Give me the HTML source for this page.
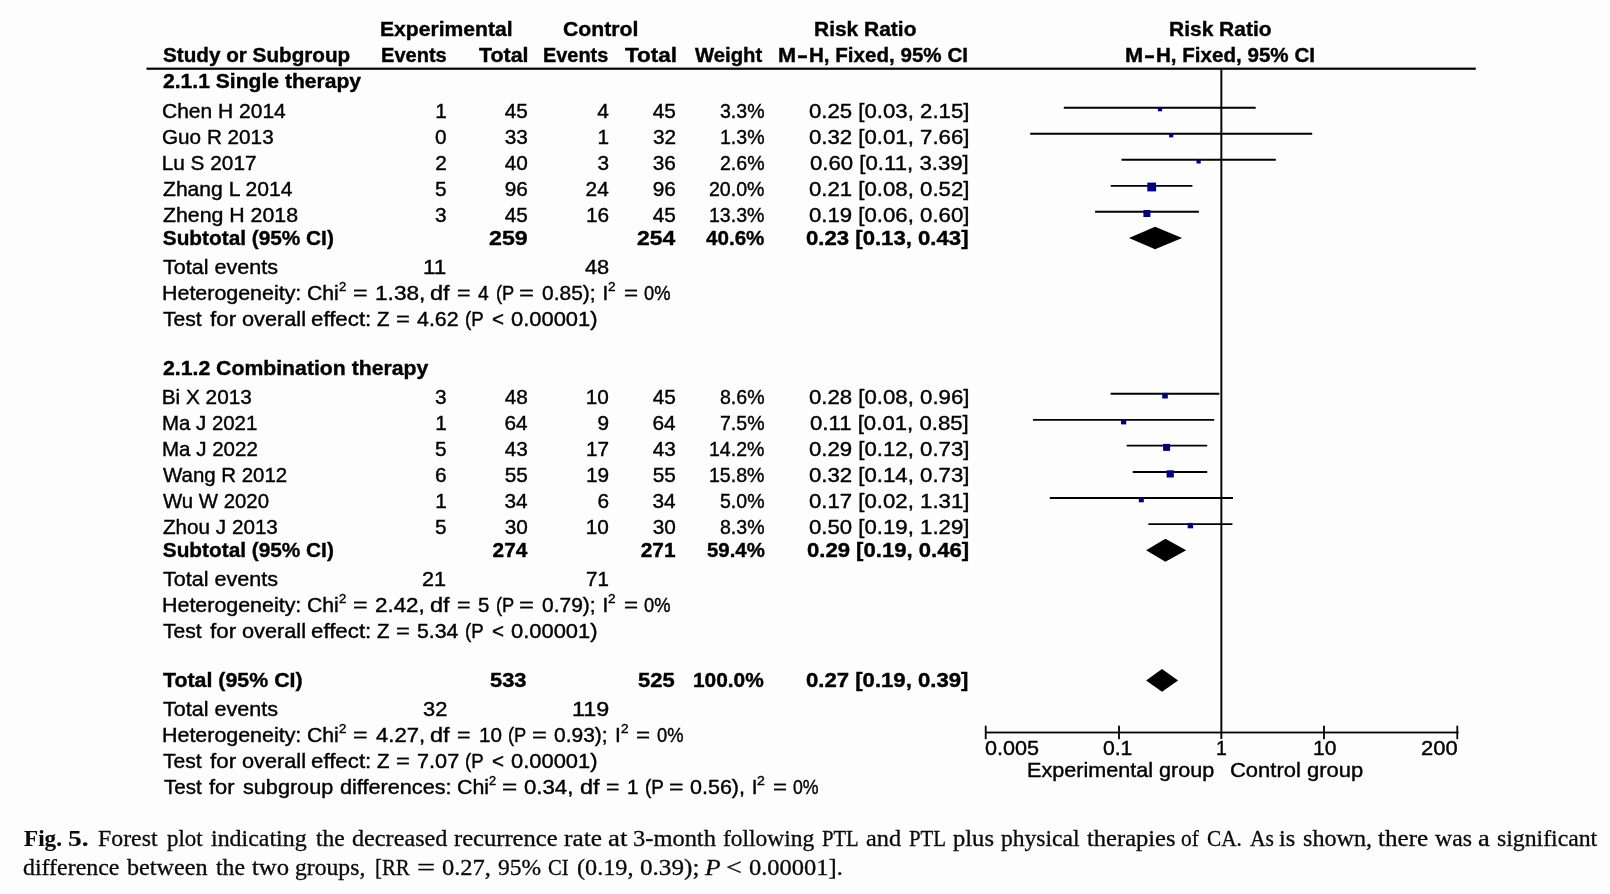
<!DOCTYPE html>
<html><head><meta charset="utf-8"><style>
html,body{margin:0;padding:0;}
body{width:1610px;height:894px;background:#fdfdfd;position:relative;overflow:hidden;color:#000;}
.s,.r{position:absolute;white-space:pre;transform-origin:0 0;}
.s{font-family:"Liberation Sans", sans-serif;font-size:20.8px;line-height:20.8px;-webkit-text-stroke:0.4px #000;}
.r{font-family:"Liberation Serif", serif;font-size:22.6px;line-height:22.6px;color:#0a0a0a;-webkit-text-stroke:0.3px #0a0a0a;}
.r.b{-webkit-text-stroke:0.1px #0a0a0a;font-weight:700;}
svg{position:absolute;left:0;top:0;}
#tx{position:absolute;left:0;top:0;width:1610px;height:894px;filter:grayscale(1);}
</style></head><body>
<svg width="1610" height="894" viewBox="0 0 1610 894">
<rect x="146.5" y="67.6" width="1329.3" height="2.2" fill="#000"/>
<rect x="1220.4" y="69" width="1.9" height="670" fill="#000"/>
<rect x="985" y="731.6" width="473.5" height="1.8" fill="#000"/>
<rect x="984.80" y="725.7" width="1.8" height="13.5" fill="#000"/>
<rect x="1118.10" y="725.7" width="1.8" height="13.5" fill="#000"/>
<rect x="1323.10" y="725.7" width="1.8" height="13.5" fill="#000"/>
<rect x="1456.40" y="725.7" width="1.8" height="13.5" fill="#000"/>
<line x1="1063.80" y1="107.70" x2="1255.70" y2="107.70" stroke="#000" stroke-width="1.9"/>
<line x1="1030.20" y1="133.80" x2="1312.20" y2="133.80" stroke="#000" stroke-width="1.9"/>
<line x1="1121.50" y1="159.80" x2="1275.80" y2="159.80" stroke="#000" stroke-width="1.9"/>
<line x1="1110.70" y1="185.90" x2="1192.40" y2="185.90" stroke="#000" stroke-width="1.9"/>
<line x1="1095.10" y1="211.80" x2="1198.90" y2="211.80" stroke="#000" stroke-width="1.9"/>
<line x1="1110.60" y1="393.70" x2="1219.30" y2="393.70" stroke="#000" stroke-width="1.9"/>
<line x1="1033.00" y1="419.90" x2="1214.20" y2="419.90" stroke="#000" stroke-width="1.9"/>
<line x1="1126.70" y1="445.60" x2="1207.20" y2="445.60" stroke="#000" stroke-width="1.9"/>
<line x1="1132.70" y1="472.00" x2="1207.20" y2="472.00" stroke="#000" stroke-width="1.9"/>
<line x1="1049.80" y1="498.00" x2="1233.00" y2="498.00" stroke="#000" stroke-width="1.9"/>
<line x1="1148.40" y1="524.10" x2="1232.40" y2="524.10" stroke="#000" stroke-width="1.9"/>
<rect x="1157.90" y="107.10" width="4.20" height="4.20" fill="#000080"/>
<rect x="1169.10" y="133.20" width="4.20" height="4.20" fill="#000080"/>
<rect x="1196.50" y="159.30" width="4.20" height="4.20" fill="#000080"/>
<rect x="1147.30" y="182.60" width="8.80" height="8.80" fill="#000080"/>
<rect x="1143.40" y="210.00" width="7.00" height="7.00" fill="#000080"/>
<rect x="1162.20" y="392.90" width="5.60" height="5.60" fill="#000080"/>
<rect x="1121.00" y="419.20" width="5.20" height="5.20" fill="#000080"/>
<rect x="1163.10" y="443.90" width="7.00" height="7.00" fill="#000080"/>
<rect x="1166.60" y="470.30" width="7.20" height="7.20" fill="#000080"/>
<rect x="1138.80" y="497.30" width="5.00" height="5.00" fill="#000080"/>
<rect x="1187.70" y="522.90" width="5.40" height="5.40" fill="#000080"/>
<polygon points="1129.00,238.00 1155.10,226.70 1182.10,238.00 1155.10,249.30" fill="#000"/>
<polygon points="1146.10,550.30 1165.40,538.75 1186.20,550.30 1165.40,561.85" fill="#000"/>
<polygon points="1146.10,680.40 1162.00,669.00 1178.10,680.40 1162.00,691.80" fill="#000"/>
</svg>
<div id="tx">
<div class="s" style="left:380.49px;top:19.00px;transform:scaleX(1.0145);font-weight:700">Experimental</div>
<div class="s" style="left:562.93px;top:19.00px;transform:scaleX(1.0195);font-weight:700">Control</div>
<div class="s" style="left:814.40px;top:19.00px;transform:scaleX(1.0071);font-weight:700">Risk Ratio</div>
<div class="s" style="left:1168.80px;top:19.00px;transform:scaleX(1.0081);font-weight:700">Risk Ratio</div>
<div class="s" style="left:162.60px;top:45.00px;transform:scaleX(0.9943);font-weight:700">Study or Subgroup</div>
<div class="s" style="left:380.56px;top:45.00px;transform:scaleX(0.9643);font-weight:700">Events</div>
<div class="s" style="left:478.76px;top:45.00px;transform:scaleX(1.0274);font-weight:700">Total</div>
<div class="s" style="left:543.17px;top:45.00px;transform:scaleX(0.9567);font-weight:700">Events</div>
<div class="s" style="left:624.75px;top:45.00px;transform:scaleX(1.0813);font-weight:700">Total</div>
<div class="s" style="left:694.88px;top:45.00px;transform:scaleX(0.9759);font-weight:700">Weight</div>
<div class="s" style="left:778.25px;top:45.00px;transform:scaleX(1.0453);font-weight:700">M</div>
<div class="s" style="left:796.71px;top:45.00px;transform:scaleX(1.5908);font-weight:700">-</div>
<div class="s" style="left:808.72px;top:45.00px;transform:scaleX(0.9895);font-weight:700">H, Fixed, 95% CI</div>
<div class="s" style="left:1125.35px;top:45.00px;transform:scaleX(1.0453);font-weight:700">M</div>
<div class="s" style="left:1143.81px;top:45.00px;transform:scaleX(1.5908);font-weight:700">-</div>
<div class="s" style="left:1155.82px;top:45.00px;transform:scaleX(0.9895);font-weight:700">H, Fixed, 95% CI</div>
<div class="s" style="left:162.77px;top:71.00px;transform:scaleX(1.0139);font-weight:700">2.1.1 Single therapy</div>
<div class="s" style="left:162.33px;top:101.00px;transform:scaleX(1.0100)">Chen H 2014</div>
<div class="s" style="left:435.15px;top:101.00px">1</div>
<div class="s" style="left:504.74px;top:101.00px">45</div>
<div class="s" style="left:597.14px;top:101.00px">4</div>
<div class="s" style="left:652.74px;top:101.00px">45</div>
<div class="s" style="left:719.94px;top:101.00px;transform:scaleX(0.9400)">3.3%</div>
<div class="s" style="left:808.59px;top:101.00px;transform:scaleX(1.0670)">0.25 [0.03, 2.15]</div>
<div class="s" style="left:162.36px;top:127.00px;transform:scaleX(0.9956)">Guo R 2013</div>
<div class="s" style="left:434.95px;top:127.00px">0</div>
<div class="s" style="left:504.78px;top:127.00px">33</div>
<div class="s" style="left:597.55px;top:127.00px">1</div>
<div class="s" style="left:652.91px;top:127.00px">32</div>
<div class="s" style="left:719.94px;top:127.00px;transform:scaleX(0.9400)">1.3%</div>
<div class="s" style="left:808.59px;top:127.00px;transform:scaleX(1.0670)">0.32 [0.01, 7.66]</div>
<div class="s" style="left:161.69px;top:153.00px">Lu S 2017</div>
<div class="s" style="left:435.18px;top:153.00px">2</div>
<div class="s" style="left:504.68px;top:153.00px">40</div>
<div class="s" style="left:597.45px;top:153.00px">3</div>
<div class="s" style="left:652.78px;top:153.00px">36</div>
<div class="s" style="left:719.94px;top:153.00px;transform:scaleX(0.9400)">2.6%</div>
<div class="s" style="left:810.24px;top:153.00px;transform:scaleX(1.0670)">0.60 [0.11, 3.39]</div>
<div class="s" style="left:162.73px;top:179.00px;transform:scaleX(1.0143)">Zhang L 2014</div>
<div class="s" style="left:435.01px;top:179.00px">5</div>
<div class="s" style="left:504.78px;top:179.00px">96</div>
<div class="s" style="left:585.58px;top:179.00px">24</div>
<div class="s" style="left:652.78px;top:179.00px">96</div>
<div class="s" style="left:709.07px;top:179.00px;transform:scaleX(0.9400)">20.0%</div>
<div class="s" style="left:808.59px;top:179.00px;transform:scaleX(1.0670)">0.21 [0.08, 0.52]</div>
<div class="s" style="left:162.72px;top:205.00px;transform:scaleX(1.0242)">Zheng H 2018</div>
<div class="s" style="left:435.05px;top:205.00px">3</div>
<div class="s" style="left:504.74px;top:205.00px">45</div>
<div class="s" style="left:585.88px;top:205.00px">16</div>
<div class="s" style="left:652.74px;top:205.00px">45</div>
<div class="s" style="left:709.07px;top:205.00px;transform:scaleX(0.9400)">13.3%</div>
<div class="s" style="left:808.59px;top:205.00px;transform:scaleX(1.0670)">0.19 [0.06, 0.60]</div>
<div class="s" style="left:162.80px;top:228.00px;font-weight:700">Subtotal (95% CI)</div>
<div class="s" style="left:489.40px;top:228.00px;transform:scaleX(1.1143);font-weight:700">259</div>
<div class="s" style="left:636.81px;top:228.00px;transform:scaleX(1.1014);font-weight:700">254</div>
<div class="s" style="left:705.89px;top:228.00px;transform:scaleX(0.9913);font-weight:700">40.6%</div>
<div class="s" style="left:806.12px;top:228.00px;transform:scaleX(1.0649);font-weight:700">0.23 [0.13, 0.43]</div>
<div class="s" style="left:162.92px;top:257.00px;transform:scaleX(1.0359)">Total events</div>
<div class="s" style="left:422.99px;top:257.00px;transform:scaleX(1.0796)">11</div>
<div class="s" style="left:585.30px;top:257.00px;transform:scaleX(1.0482)">48</div>
<div class="s" style="left:161.84px;top:283.00px;transform:scaleX(1.0300)">Heterogeneity:</div>
<div class="s" style="left:307.22px;top:283.00px;transform:scaleX(1.0192)">Chi</div>
<div class="s" style="left:339.34px;top:281.00px;transform:scaleX(1.0536);font-size:12.5px;line-height:12.5px">2</div>
<div class="s" style="left:353.38px;top:283.00px;transform:scaleX(1.1976)">=</div>
<div class="s" style="left:374.68px;top:283.00px;transform:scaleX(1.0887)">1.38,</div>
<div class="s" style="left:430.22px;top:283.00px;transform:scaleX(1.1272)">df</div>
<div class="s" style="left:456.77px;top:283.00px;transform:scaleX(1.1085)">=</div>
<div class="s" style="left:477.96px;top:283.00px;transform:scaleX(0.9256)">4</div>
<div class="s" style="left:495.87px;top:283.00px;transform:scaleX(0.8799)">(P</div>
<div class="s" style="left:519.35px;top:283.00px;transform:scaleX(1.2273)">=</div>
<div class="s" style="left:541.58px;top:283.00px;transform:scaleX(1.0079)">0.85);</div>
<div class="s" style="left:602.56px;top:283.00px">I</div>
<div class="s" style="left:608.12px;top:281.00px;transform:scaleX(1.0888);font-size:12.5px;line-height:12.5px">2</div>
<div class="s" style="left:623.52px;top:283.00px;transform:scaleX(1.1580)">=</div>
<div class="s" style="left:644.08px;top:283.00px;transform:scaleX(0.8806)">0%</div>
<div class="s" style="left:163.23px;top:309.00px;transform:scaleX(1.0128)">Test</div>
<div class="s" style="left:209.58px;top:309.00px;transform:scaleX(1.0749)">for</div>
<div class="s" style="left:241.79px;top:309.00px;transform:scaleX(1.0441)">overall</div>
<div class="s" style="left:311.15px;top:309.00px;transform:scaleX(1.0713)">effect:</div>
<div class="s" style="left:376.95px;top:309.00px;transform:scaleX(0.9830)">Z</div>
<div class="s" style="left:395.94px;top:309.00px;transform:scaleX(1.1382)">=</div>
<div class="s" style="left:417.41px;top:309.00px;transform:scaleX(1.0269)">4.62</div>
<div class="s" style="left:465.24px;top:309.00px;transform:scaleX(0.8962)">(P</div>
<div class="s" style="left:491.88px;top:309.00px;transform:scaleX(0.9897)">&lt;</div>
<div class="s" style="left:511.24px;top:309.00px;transform:scaleX(1.0538)">0.00001)</div>
<div class="s" style="left:162.56px;top:358.00px;transform:scaleX(1.0205);font-weight:700">2.1.2 Combination therapy</div>
<div class="s" style="left:161.69px;top:387.00px">Bi X 2013</div>
<div class="s" style="left:435.05px;top:387.00px">3</div>
<div class="s" style="left:504.77px;top:387.00px">48</div>
<div class="s" style="left:585.78px;top:387.00px">10</div>
<div class="s" style="left:652.74px;top:387.00px">45</div>
<div class="s" style="left:719.94px;top:387.00px;transform:scaleX(0.9400)">8.6%</div>
<div class="s" style="left:808.59px;top:387.00px;transform:scaleX(1.0670)">0.28 [0.08, 0.96]</div>
<div class="s" style="left:161.73px;top:413.00px;transform:scaleX(0.9811)">Ma J 2021</div>
<div class="s" style="left:435.15px;top:413.00px">1</div>
<div class="s" style="left:504.48px;top:413.00px">64</div>
<div class="s" style="left:597.52px;top:413.00px">9</div>
<div class="s" style="left:652.48px;top:413.00px">64</div>
<div class="s" style="left:719.94px;top:413.00px;transform:scaleX(0.9400)">7.5%</div>
<div class="s" style="left:810.24px;top:413.00px;transform:scaleX(1.0670)">0.11 [0.01, 0.85]</div>
<div class="s" style="left:161.72px;top:439.00px;transform:scaleX(0.9867)">Ma J 2022</div>
<div class="s" style="left:435.01px;top:439.00px">5</div>
<div class="s" style="left:504.78px;top:439.00px">43</div>
<div class="s" style="left:586.01px;top:439.00px">17</div>
<div class="s" style="left:652.78px;top:439.00px">43</div>
<div class="s" style="left:709.07px;top:439.00px;transform:scaleX(0.9400)">14.2%</div>
<div class="s" style="left:808.59px;top:439.00px;transform:scaleX(1.0670)">0.29 [0.12, 0.73]</div>
<div class="s" style="left:163.31px;top:465.00px;transform:scaleX(0.9820)">Wang R 2012</div>
<div class="s" style="left:435.05px;top:465.00px">6</div>
<div class="s" style="left:504.74px;top:465.00px">55</div>
<div class="s" style="left:585.95px;top:465.00px">19</div>
<div class="s" style="left:652.74px;top:465.00px">55</div>
<div class="s" style="left:709.07px;top:465.00px;transform:scaleX(0.9400)">15.8%</div>
<div class="s" style="left:808.59px;top:465.00px;transform:scaleX(1.0670)">0.32 [0.14, 0.73]</div>
<div class="s" style="left:163.31px;top:491.00px;transform:scaleX(0.9789)">Wu W 2020</div>
<div class="s" style="left:435.15px;top:491.00px">1</div>
<div class="s" style="left:504.48px;top:491.00px">34</div>
<div class="s" style="left:597.45px;top:491.00px">6</div>
<div class="s" style="left:652.48px;top:491.00px">34</div>
<div class="s" style="left:719.94px;top:491.00px;transform:scaleX(0.9400)">5.0%</div>
<div class="s" style="left:808.59px;top:491.00px;transform:scaleX(1.0670)">0.17 [0.02, 1.31]</div>
<div class="s" style="left:162.74px;top:517.00px;transform:scaleX(0.9934)">Zhou J 2013</div>
<div class="s" style="left:435.01px;top:517.00px">5</div>
<div class="s" style="left:504.68px;top:517.00px">30</div>
<div class="s" style="left:585.78px;top:517.00px">10</div>
<div class="s" style="left:652.68px;top:517.00px">30</div>
<div class="s" style="left:719.94px;top:517.00px;transform:scaleX(0.9400)">8.3%</div>
<div class="s" style="left:808.59px;top:517.00px;transform:scaleX(1.0670)">0.50 [0.19, 1.29]</div>
<div class="s" style="left:162.80px;top:540.00px;font-weight:700">Subtotal (95% CI)</div>
<div class="s" style="left:492.61px;top:540.00px;font-weight:700">274</div>
<div class="s" style="left:640.78px;top:540.00px;font-weight:700">271</div>
<div class="s" style="left:706.55px;top:540.00px;transform:scaleX(0.9800);font-weight:700">59.4%</div>
<div class="s" style="left:806.56px;top:540.00px;transform:scaleX(1.0620);font-weight:700">0.29 [0.19, 0.46]</div>
<div class="s" style="left:162.92px;top:569.00px;transform:scaleX(1.0359)">Total events</div>
<div class="s" style="left:422.21px;top:569.00px;transform:scaleX(1.0394)">21</div>
<div class="s" style="left:585.75px;top:569.00px;transform:scaleX(0.9881)">71</div>
<div class="s" style="left:161.84px;top:595.00px;transform:scaleX(1.0300)">Heterogeneity:</div>
<div class="s" style="left:307.22px;top:595.00px;transform:scaleX(1.0192)">Chi</div>
<div class="s" style="left:339.34px;top:593.00px;transform:scaleX(1.0536);font-size:12.5px;line-height:12.5px">2</div>
<div class="s" style="left:353.38px;top:595.00px;transform:scaleX(1.1976)">=</div>
<div class="s" style="left:375.28px;top:595.00px;transform:scaleX(1.0752)">2.42,</div>
<div class="s" style="left:430.22px;top:595.00px;transform:scaleX(1.1272)">df</div>
<div class="s" style="left:456.77px;top:595.00px;transform:scaleX(1.1085)">=</div>
<div class="s" style="left:477.58px;top:595.00px;transform:scaleX(0.9838)">5</div>
<div class="s" style="left:495.87px;top:595.00px;transform:scaleX(0.8799)">(P</div>
<div class="s" style="left:519.35px;top:595.00px;transform:scaleX(1.2273)">=</div>
<div class="s" style="left:541.58px;top:595.00px;transform:scaleX(1.0079)">0.79);</div>
<div class="s" style="left:602.56px;top:595.00px">I</div>
<div class="s" style="left:608.12px;top:593.00px;transform:scaleX(1.0888);font-size:12.5px;line-height:12.5px">2</div>
<div class="s" style="left:623.52px;top:595.00px;transform:scaleX(1.1580)">=</div>
<div class="s" style="left:644.08px;top:595.00px;transform:scaleX(0.8806)">0%</div>
<div class="s" style="left:163.23px;top:621.00px;transform:scaleX(1.0128)">Test</div>
<div class="s" style="left:209.58px;top:621.00px;transform:scaleX(1.0749)">for</div>
<div class="s" style="left:241.79px;top:621.00px;transform:scaleX(1.0441)">overall</div>
<div class="s" style="left:311.15px;top:621.00px;transform:scaleX(1.0713)">effect:</div>
<div class="s" style="left:376.95px;top:621.00px;transform:scaleX(0.9830)">Z</div>
<div class="s" style="left:395.94px;top:621.00px;transform:scaleX(1.1382)">=</div>
<div class="s" style="left:417.05px;top:621.00px;transform:scaleX(1.0247)">5.34</div>
<div class="s" style="left:465.24px;top:621.00px;transform:scaleX(0.8962)">(P</div>
<div class="s" style="left:491.88px;top:621.00px;transform:scaleX(0.9897)">&lt;</div>
<div class="s" style="left:511.24px;top:621.00px;transform:scaleX(1.0538)">0.00001)</div>
<div class="s" style="left:163.46px;top:670.00px;transform:scaleX(1.0268);font-weight:700">Total (95% CI)</div>
<div class="s" style="left:490.43px;top:670.00px;transform:scaleX(1.0508);font-weight:700">533</div>
<div class="s" style="left:638.32px;top:670.00px;transform:scaleX(1.0573);font-weight:700">525</div>
<div class="s" style="left:692.89px;top:670.00px;transform:scaleX(1.0033);font-weight:700">100.0%</div>
<div class="s" style="left:805.82px;top:670.00px;transform:scaleX(1.0642);font-weight:700">0.27 [0.19, 0.39]</div>
<div class="s" style="left:162.92px;top:699.00px;transform:scaleX(1.0359)">Total events</div>
<div class="s" style="left:422.77px;top:699.00px;transform:scaleX(1.0519)">32</div>
<div class="s" style="left:572.02px;top:699.00px;transform:scaleX(1.1214)">119</div>
<div class="s" style="left:161.84px;top:725.00px;transform:scaleX(1.0300)">Heterogeneity:</div>
<div class="s" style="left:307.22px;top:725.00px;transform:scaleX(1.0192)">Chi</div>
<div class="s" style="left:339.34px;top:723.00px;transform:scaleX(1.0536);font-size:12.5px;line-height:12.5px">2</div>
<div class="s" style="left:353.38px;top:725.00px;transform:scaleX(1.1976)">=</div>
<div class="s" style="left:375.89px;top:725.00px;transform:scaleX(1.0613)">4.27,</div>
<div class="s" style="left:430.22px;top:725.00px;transform:scaleX(1.1272)">df</div>
<div class="s" style="left:456.77px;top:725.00px;transform:scaleX(1.1085)">=</div>
<div class="s" style="left:478.63px;top:725.00px;transform:scaleX(0.9935)">10</div>
<div class="s" style="left:508.37px;top:725.00px;transform:scaleX(0.8799)">(P</div>
<div class="s" style="left:531.85px;top:725.00px;transform:scaleX(1.2273)">=</div>
<div class="s" style="left:554.08px;top:725.00px;transform:scaleX(1.0079)">0.93);</div>
<div class="s" style="left:615.06px;top:725.00px">I</div>
<div class="s" style="left:620.62px;top:723.00px;transform:scaleX(1.0888);font-size:12.5px;line-height:12.5px">2</div>
<div class="s" style="left:636.02px;top:725.00px;transform:scaleX(1.1580)">=</div>
<div class="s" style="left:656.58px;top:725.00px;transform:scaleX(0.8806)">0%</div>
<div class="s" style="left:163.23px;top:751.00px;transform:scaleX(1.0128)">Test</div>
<div class="s" style="left:209.58px;top:751.00px;transform:scaleX(1.0749)">for</div>
<div class="s" style="left:241.79px;top:751.00px;transform:scaleX(1.0441)">overall</div>
<div class="s" style="left:311.15px;top:751.00px;transform:scaleX(1.0713)">effect:</div>
<div class="s" style="left:376.95px;top:751.00px;transform:scaleX(0.9830)">Z</div>
<div class="s" style="left:395.94px;top:751.00px;transform:scaleX(1.1382)">=</div>
<div class="s" style="left:416.79px;top:751.00px;transform:scaleX(1.0426)">7.07</div>
<div class="s" style="left:465.24px;top:751.00px;transform:scaleX(0.8962)">(P</div>
<div class="s" style="left:491.88px;top:751.00px;transform:scaleX(0.9897)">&lt;</div>
<div class="s" style="left:511.24px;top:751.00px;transform:scaleX(1.0538)">0.00001)</div>
<div class="s" style="left:163.74px;top:777.00px;transform:scaleX(0.9861)">Test</div>
<div class="s" style="left:208.69px;top:777.00px;transform:scaleX(1.0537)">for</div>
<div class="s" style="left:242.80px;top:777.00px;transform:scaleX(1.0402)">subgroup</div>
<div class="s" style="left:339.69px;top:777.00px;transform:scaleX(1.0416)">differences:</div>
<div class="s" style="left:456.72px;top:777.00px;transform:scaleX(1.0262)">Chi</div>
<div class="s" style="left:488.76px;top:775.00px;transform:scaleX(1.0185);font-size:12.5px;line-height:12.5px">2</div>
<div class="s" style="left:502.42px;top:777.00px;transform:scaleX(1.2570)">=</div>
<div class="s" style="left:523.93px;top:777.00px;transform:scaleX(1.0672)">0.34,</div>
<div class="s" style="left:580.22px;top:777.00px;transform:scaleX(1.1272)">df</div>
<div class="s" style="left:606.18px;top:777.00px;transform:scaleX(1.0986)">=</div>
<div class="s" style="left:626.98px;top:777.00px">1</div>
<div class="s" style="left:644.63px;top:777.00px;transform:scaleX(0.9071)">(P</div>
<div class="s" style="left:669.19px;top:777.00px;transform:scaleX(1.1877)">=</div>
<div class="s" style="left:690.26px;top:777.00px;transform:scaleX(1.0337)">0.56),</div>
<div class="s" style="left:751.86px;top:777.00px">I</div>
<div class="s" style="left:757.09px;top:775.00px;transform:scaleX(1.1239);font-size:12.5px;line-height:12.5px">2</div>
<div class="s" style="left:772.82px;top:777.00px;transform:scaleX(1.1580)">=</div>
<div class="s" style="left:793.41px;top:777.00px;transform:scaleX(0.8525)">0%</div>
<div class="s" style="left:985.16px;top:738.00px;transform:scaleX(1.0386)">0.005</div>
<div class="s" style="left:1103.37px;top:738.00px;transform:scaleX(1.0154)">0.1</div>
<div class="s" style="left:1215.72px;top:738.00px;transform:scaleX(0.9368)">1</div>
<div class="s" style="left:1312.60px;top:738.00px;transform:scaleX(1.0128)">10</div>
<div class="s" style="left:1421.29px;top:738.00px;transform:scaleX(1.0566)">200</div>
<div class="s" style="left:1027.33px;top:760.00px;transform:scaleX(1.0385)">Experimental group</div>
<div class="s" style="left:1229.58px;top:760.00px;transform:scaleX(1.0566)">Control group</div>
<div class="r b" style="left:23.60px;top:828.00px;transform:scaleX(1.0240)">Fig.</div>
<div class="r b" style="left:68.00px;top:828.00px;transform:scaleX(1.2162)">5.</div>
<div class="r" style="left:98.41px;top:828.00px;transform:scaleX(1.0538)">Forest</div>
<div class="r" style="left:166.63px;top:828.00px;transform:scaleX(1.0158)">plot</div>
<div class="r" style="left:211.30px;top:828.00px;transform:scaleX(1.0587)">indicating</div>
<div class="r" style="left:315.97px;top:828.00px;transform:scaleX(1.0414)">the</div>
<div class="r" style="left:351.82px;top:828.00px;transform:scaleX(1.0721)">decreased</div>
<div class="r" style="left:453.81px;top:828.00px;transform:scaleX(1.0864)">recurrence</div>
<div class="r" style="left:563.89px;top:828.00px;transform:scaleX(1.1189)">rate</div>
<div class="r" style="left:607.75px;top:828.00px;transform:scaleX(1.1900)">at</div>
<div class="r" style="left:633.13px;top:828.00px;transform:scaleX(1.0827)">3-month</div>
<div class="r" style="left:722.78px;top:828.00px;transform:scaleX(1.0377)">following</div>
<div class="r" style="left:822.40px;top:828.00px;transform:scaleX(0.9146)">PTL</div>
<div class="r" style="left:865.65px;top:828.00px;transform:scaleX(1.0744)">and</div>
<div class="r" style="left:909.00px;top:828.00px;transform:scaleX(0.9224)">PTL</div>
<div class="r" style="left:953.00px;top:828.00px;transform:scaleX(1.0882)">plus</div>
<div class="r" style="left:1000.52px;top:828.00px;transform:scaleX(1.0433)">physical</div>
<div class="r" style="left:1086.76px;top:828.00px;transform:scaleX(1.0856)">therapies</div>
<div class="r" style="left:1181.39px;top:828.00px;transform:scaleX(0.9465)">of</div>
<div class="r" style="left:1207.43px;top:828.00px;transform:scaleX(0.9417)">CA.</div>
<div class="r" style="left:1249.79px;top:828.00px;transform:scaleX(0.9555)">As</div>
<div class="r" style="left:1279.49px;top:828.00px;transform:scaleX(1.0814)">is</div>
<div class="r" style="left:1302.51px;top:828.00px;transform:scaleX(1.0675)">shown,</div>
<div class="r" style="left:1378.16px;top:828.00px;transform:scaleX(1.1098)">there</div>
<div class="r" style="left:1435.18px;top:828.00px;transform:scaleX(1.0496)">was</div>
<div class="r" style="left:1478.07px;top:828.00px;transform:scaleX(1.1765)">a</div>
<div class="r" style="left:1496.93px;top:828.00px;transform:scaleX(1.0508)">significant</div>
<div class="r" style="left:23.14px;top:857.00px;transform:scaleX(1.0575)">difference</div>
<div class="r" style="left:127.30px;top:857.00px;transform:scaleX(1.0690)">between</div>
<div class="r" style="left:215.77px;top:857.00px;transform:scaleX(1.0489)">the</div>
<div class="r" style="left:252.26px;top:857.00px;transform:scaleX(1.0912)">two</div>
<div class="r" style="left:295.08px;top:857.00px;transform:scaleX(1.0470)">groups,</div>
<div class="r" style="left:375.46px;top:857.00px;transform:scaleX(0.9206)">[RR</div>
<div class="r" style="left:417.39px;top:857.00px;transform:scaleX(1.4268)">=</div>
<div class="r" style="left:441.77px;top:857.00px;transform:scaleX(1.0838)">0.27,</div>
<div class="r" style="left:497.84px;top:857.00px;transform:scaleX(1.0397)">95%</div>
<div class="r" style="left:548.46px;top:857.00px;transform:scaleX(0.9103)">CI</div>
<div class="r" style="left:576.74px;top:857.00px;transform:scaleX(1.0717)">(0.19,</div>
<div class="r" style="left:640.34px;top:857.00px;transform:scaleX(1.1134)">0.39);</div>
<div class="r" style="left:704.94px;top:857.00px;transform:scaleX(1.1312);font-style:italic">P</div>
<div class="r" style="left:726.01px;top:857.00px;transform:scaleX(1.2366)">&lt;</div>
<div class="r" style="left:749.07px;top:857.00px;transform:scaleX(1.0837)">0.00001].</div>
</div>
</body></html>
